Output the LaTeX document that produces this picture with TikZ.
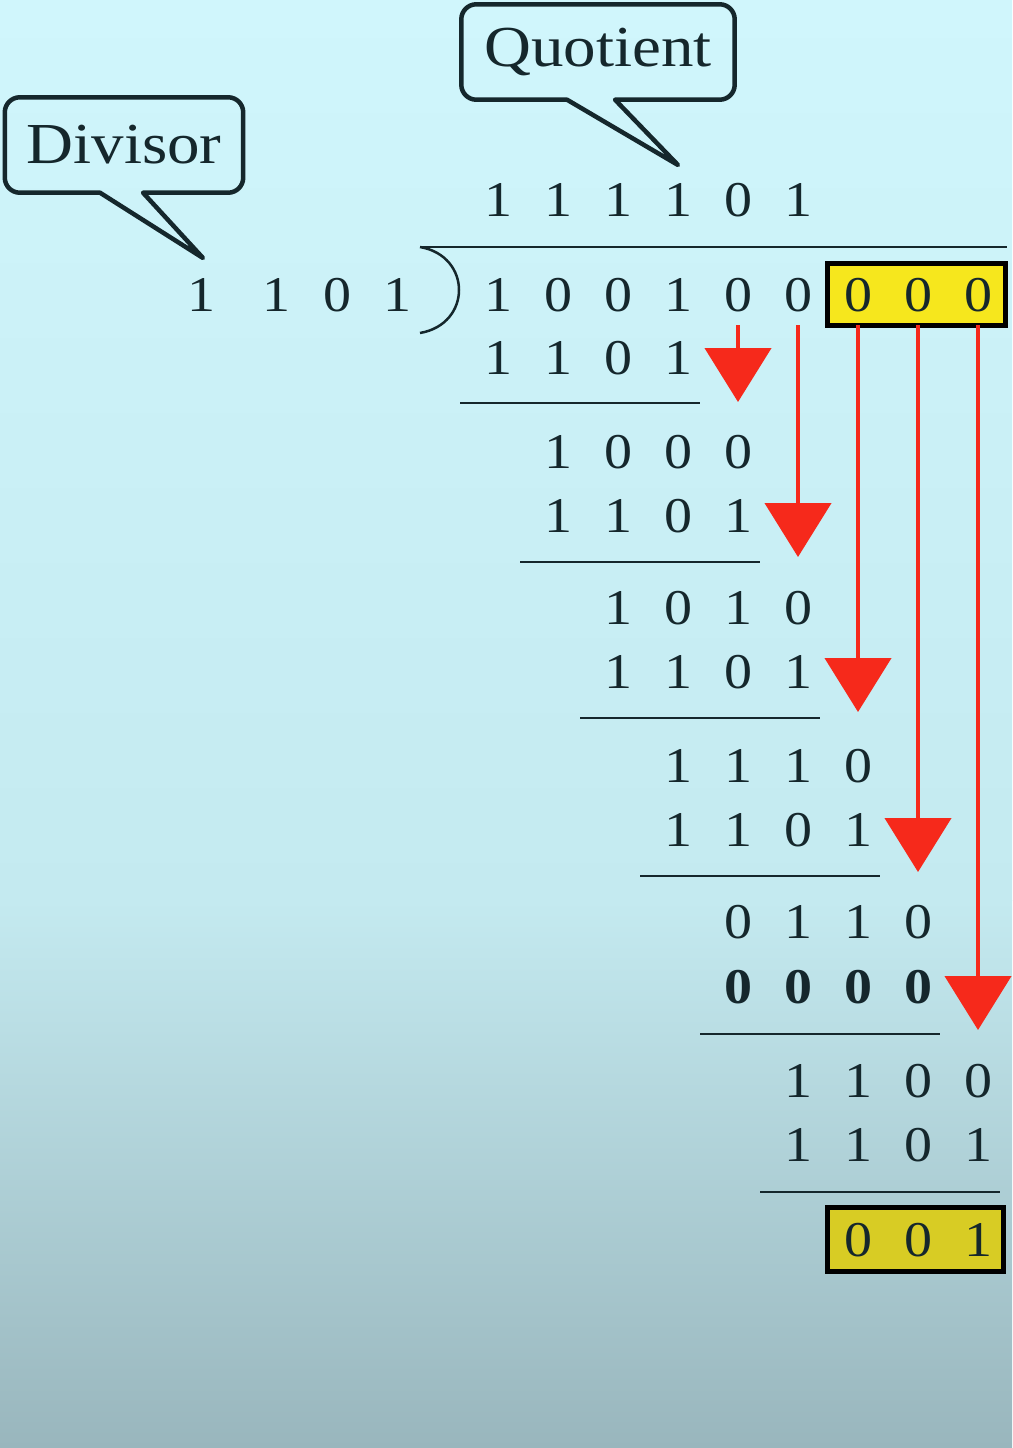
\documentclass[tikz,border=0pt]{standalone}
\usepackage{fontspec}
\setmainfont{Liberation Serif}[FakeStretch=1.12]
\usetikzlibrary{arrows.meta,positioning}
\definecolor{ink}{HTML}{15272C}
\definecolor{bgtop}{HTML}{D0F6FC}
\definecolor{bgmid}{HTML}{C4EAF0}
\definecolor{bgbot}{HTML}{99B6BD}
\definecolor{hlyellow}{HTML}{F6E71D}
\definecolor{hldark}{HTML}{D8CC24}
\definecolor{dropred}{HTML}{F6291B}

\begin{document}
\begin{tikzpicture}[x=1pt,y=-1pt,>=Latex,
 bit/.style={text=ink,font=\fontsize{50}{50}\selectfont,inner sep=0pt},
 tag/.style={text=ink,font=\fontsize{58}{58}\selectfont,inner sep=0pt,minimum height=95pt},
 bubble/.style={draw=ink,line width=4.5pt,line join=round},
 rule/.style={draw=ink,line width=2.5pt},
 drop/.style={draw=dropred,line width=4.5pt,-{Triangle[width=66pt,length=54pt]},shorten <=13pt},
 hlbox/.style={draw=black,line width=5pt,minimum width=178pt,minimum height=62pt}]
\shade[top color=bgtop,bottom color=bgmid](0,0)rectangle(1012,900);
\shade[top color=bgmid,bottom color=bgbot](0,900)rectangle(1012,1448);
\useasboundingbox(0,0)rectangle(1012,1448);
% callouts
\node[tag,minimum width=238pt](divisor)at(124,145){Divisor};
\coordinate(divtip)at(203,258);
\draw[bubble]([xshift=50pt]divisor.south)[rounded corners=15pt]--(divisor.south east)--(divisor.north east)
 --(divisor.north west)--(divisor.south west)--([xshift=-55pt]divisor.south)[sharp corners]
 --([xshift=-24pt]divisor.south)--(divtip)--([xshift=19pt]divisor.south)--cycle;
\node[tag,minimum width=273pt](quotient)at(598,52){Quotient};
\coordinate(quotip)at(678,165);
\draw[bubble]([xshift=50pt]quotient.south)[rounded corners=15pt]--(quotient.south east)--(quotient.north east)
 --(quotient.north west)--(quotient.south west)--([xshift=-65pt]quotient.south)[sharp corners]
 --([xshift=-31pt]quotient.south)--(quotip)--([xshift=17pt]quotient.south)--cycle;
% quotient, divisor, dividend
\foreach \b [count=\i] in {1,1,1,1,0,1}
 \node[bit](q\i)at({438+60*\i},200){\b};
\foreach \b/\x [count=\i] in {1/201,1/276,0/337,1/397}
 \node[bit](dr\i)at(\x,295){\b};
\node[hlbox,fill=hlyellow](pad)at(916,294){};
\foreach \b [count=\i] in {1,0,0,1,0,0,0,0,0}
 \node[bit](dv\i)at({438+60*\i},295){\b};
\draw[rule](420,247)--(1007,247);
\draw[rule](420,247).. controls (472,256) and (472,324) ..(420,333);
% steps
\foreach \y/\k/\bits [count=\r] in {358/0/{1,1,0,1},452/1/{1,0,0,0},516/1/{1,1,0,1},
 608/2/{1,0,1,0},672/2/{1,1,0,1},766/3/{1,1,1,0},830/3/{1,1,0,1},922/4/{0,1,1,0},
 1081/5/{1,1,0,0},1145/5/{1,1,0,1}}
 \foreach \b [count=\i] in \bits
  \node[bit](s\r-\i)at({438+60*(\k+\i)},\y){\b};
\foreach \b [count=\i] in {0,0,0,0}
 \node[bit,font=\fontsize{50}{50}\selectfont\bfseries](z\i)at({438+60*(4+\i)},987){\b};
\foreach \k/\y in {0/403,1/562,2/718,3/876,4/1034,5/1192}
 \draw[rule]({460+60*\k},\y)--({700+60*\k},\y);
% remainder
\node[hlbox,fill=hldark,minimum width=176pt,minimum height=64pt](rem)at(915,1239){};
\foreach \b [count=\i] in {0,0,1}
 \node[bit](r\i)at({438+60*(6+\i)},1240){\b};
% drops
\foreach \i/\t in {5/402,6/557,7/712,8/872,9/1030}{
 \coordinate(tip\i)at({438+60*\i},\t);
 \draw[drop](dv\i.south)--(tip\i);}
\end{tikzpicture}
\end{document}
